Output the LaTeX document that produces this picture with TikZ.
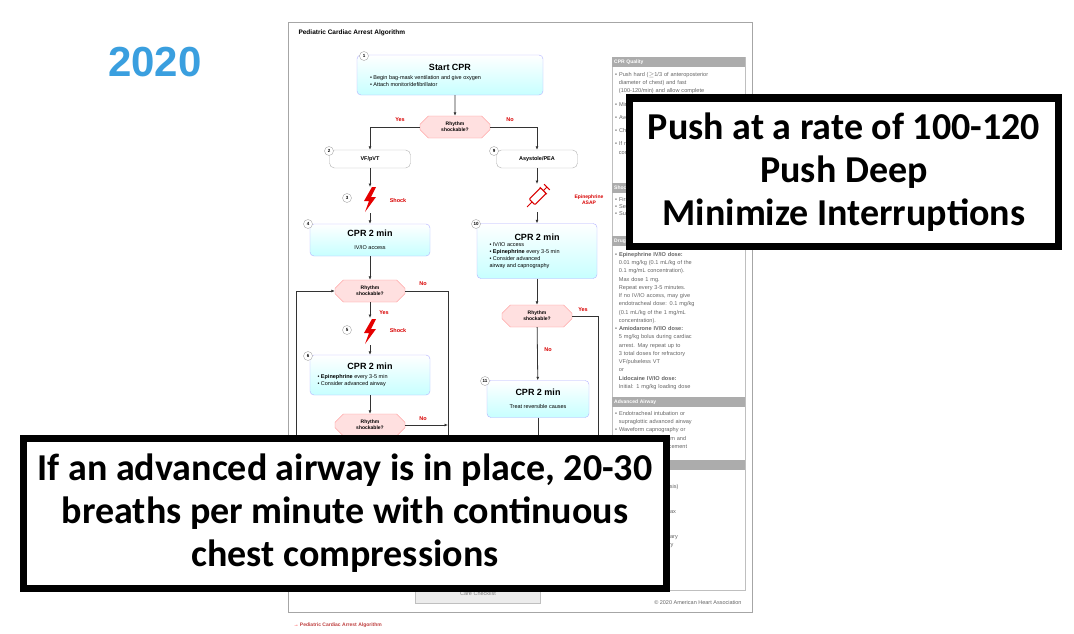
\documentclass[tikz,border=0pt]{standalone}
\usepackage{fontspec}
\setmainfont{Liberation Sans}
\newfontfamily\bigf{Carlito}
\usetikzlibrary{shapes.misc,arrows.meta,calc}
\tikzset{
 box/.style={draw=blue!30, rounded corners=4pt, top color=white, bottom color=cyan!22, align=center, inner sep=1pt},
 wbox/.style={draw=gray!60, rounded corners=5pt, fill=white, font=\fontsize{5.5}{6}\selectfont\bfseries},
 hexa/.style={chamfered rectangle, chamfered rectangle xsep=9pt, draw=red!45, fill=red!12, align=center, font=\fontsize{5}{6}\selectfont\bfseries, minimum width=70pt, minimum height=22pt, inner sep=0pt},
 num/.style={circle, draw=gray!70, fill=white, inner sep=0.5pt, minimum size=9pt, font=\fontsize{4.5}{5}\selectfont\bfseries},
 lab/.style={text=red!85!black, font=\fontsize{5.5}{6}\selectfont\bfseries},
 ar/.style={-{Latex[length=3.5pt,width=3pt]}, line width=0.8pt, draw=black!80},
 ln/.style={line width=0.8pt, draw=black!80},
 hdr/.style={fill=gray!65, text=white, anchor=north west, minimum width=133pt, minimum height=10pt, inner sep=2pt, text width=129pt, font=\fontsize{5}{6}\selectfont\bfseries},
 side/.style={anchor=north west, text=gray!80!black, text width=128pt, align=left, inner sep=0pt, font=\fontsize{5.6}{8.25}\selectfont},
 over/.style={draw=black, line width=7pt, fill=white, align=center, font=\bigf\bfseries\fontsize{38}{43}\selectfont},
}
\newcommand{\bolt}[1]{\fill[red!90!black] ($(#1)+(2,-13)$) -- ($(#1)+(-6,1)$) -- ($(#1)+(-1,1)$) -- ($(#1)+(-5,12)$) -- ($(#1)+(6,-3)$) -- ($(#1)+(1,-3)$) -- ($(#1)+(6,-13)$) -- cycle;}
\begin{document}
\begin{tikzpicture}[x=1pt,y=-1pt]
\useasboundingbox (0,0) rectangle (1074,634);
\fill[white] (0,0) rectangle (1074,634);
\node[text=cyan!75!blue!80, font=\bfseries\fontsize{42}{42}\selectfont] (yr) at (155,62) {2020};
% document
\draw[gray!70, line width=0.6pt] (288,22) rectangle (752,612);
\node[anchor=west, font=\fontsize{6.5}{7}\selectfont\bfseries] (ttl) at (295,33) {Pediatric Cardiac Arrest Algorithm};
% right panel
\draw[gray!50] (612,57) rectangle (745,590);
\node[hdr] (h1) at (612,57) {CPR Quality};
\node[side] (t1) at (615,72) {• Push hard ($\geq$1/3 of anteroposterior\\ \ \ diameter of chest) and fast\\ \ \ (100-120/min) and allow complete\\[5pt]• Minimize interruptions\\[5pt]• Avoid excessive ventilation\\[5pt]• Change compressor every 2 min\\[5pt]• If no advanced airway, 15:2\\ \ \ compression-ventilation ratio};
\node[hdr] (h2) at (612,183) {Shock Energy for Defibrillation};
\node[side, font=\fontsize{5.6}{7}\selectfont] (t2) at (615,197) {• First shock 2 J/kg\\• Second shock 4 J/kg\\• Subsequent shocks $\geq$4 J/kg};
\node[hdr] (h3) at (612,236) {Drug Therapy};
\node[side] (t3) at (615,252) {• \textbf{Epinephrine IV/IO dose:}\\ \ \ 0.01 mg/kg (0.1 mL/kg of the\\ \ \ 0.1 mg/mL concentration).\\ \ \ Max dose 1 mg.\\ \ \ Repeat every 3-5 minutes.\\ \ \ If no IV/IO access, may give\\ \ \ endotracheal dose: 0.1 mg/kg\\ \ \ (0.1 mL/kg of the 1 mg/mL\\ \ \ concentration).\\• \textbf{Amiodarone IV/IO dose:}\\ \ \ 5 mg/kg bolus during cardiac\\ \ \ arrest. May repeat up to\\ \ \ 3 total doses for refractory\\ \ \ VF/pulseless VT\\ \ \ or\\ \ \ \textbf{Lidocaine IV/IO dose:}\\ \ \ Initial: 1 mg/kg loading dose};
\node[hdr] (h4) at (612,397) {Advanced Airway};
\node[side] (t4) at (615,411) {• Endotracheal intubation or\\ \ \ supraglottic advanced airway\\• Waveform capnography or\\ \ \ capnometry to confirm and\\ \ \ monitor ET tube placement};
\node[hdr] (h5) at (612,460) {Reversible Causes};
\node[side] (t5) at (615,476) {• Hypovolemia\\• Hydrogen ion (acidosis)\\• Hypoglycemia\\• Hypo-/hyperkalemia\\• Tension pneumothorax\\• Tamponade, cardiac\\• Toxins\\• Thrombosis, pulmonary\\• Thrombosis, coronary};
\node[anchor=east, text=gray!80!black, font=\fontsize{5.5}{6}\selectfont] (cp) at (745,603) {© 2020 American Heart Association};
% flow nodes
\node[box, minimum width=186pt, minimum height=40pt] (b1) at (450,75) {{\bfseries\fontsize{9}{10}\selectfont Start CPR}\\[1pt]\parbox{160pt}{\fontsize{5.5}{7}\selectfont • Begin bag-mask ventilation and give oxygen\\• Attach monitor/defibrillator}};
\node[num] (n1) at (364,56) {1};
\node[hexa] (d1) at (455,127) {Rhythm\\shockable?};
\node[wbox, minimum width=81pt, minimum height=18pt] (b2) at (370,159) {VF/pVT};
\node[num] (n2) at (329,151) {2};
\node[wbox, minimum width=81pt, minimum height=18pt] (b9) at (537,159) {Asystole/PEA};
\node[num] (n9) at (494,151) {9};
\coordinate (s3) at (370,200);
\bolt{s3}
\node[num] (n3) at (347,198) {3};
\node[lab] (l3) at (398,201) {Shock};
\node[box, minimum width=120pt, minimum height=32pt] (b4) at (370,240) {{\bfseries\fontsize{9}{10}\selectfont CPR 2 min}\\[1pt]{\fontsize{5.5}{6}\selectfont IV/IO access}};
\node[num] (n4) at (308,224) {4};
\coordinate (sy) at (537,197);
\begin{scope}[shift={(sy)}, rotate=-45, red!85!black]
\draw[line width=1pt, rounded corners=1pt] (-4,-9) rectangle (4,7);
\draw[line width=1pt] (0,7) -- (0,14) (-5,-9) -- (5,-9) (0,-9) -- (0,-14) (-4,-14) -- (4,-14);
\end{scope}
\node[lab, align=center, font=\fontsize{5}{6}\selectfont\bfseries] (l9) at (589,200) {Epinephrine\\ASAP};
\node[box, minimum width=120pt, minimum height=55pt] (b10) at (537,251) {{\bfseries\fontsize{9}{10}\selectfont CPR 2 min}\\[1pt]\parbox{95pt}{\fontsize{5.5}{7}\selectfont • IV/IO access\\• \textbf{Epinephrine} every 3-5 min\\• Consider advanced\\ \ \ airway and capnography}};
\node[num] (n10) at (476,224) {10};
\node[hexa] (d2) at (370,291) {Rhythm\\shockable?};
\coordinate (s5) at (370,332);
\bolt{s5}
\node[num] (n5) at (347,330) {5};
\node[lab] (l5) at (398,331) {Shock};
\node[box, minimum width=120pt, minimum height=40pt] (b6) at (370,375) {{\bfseries\fontsize{9}{10}\selectfont CPR 2 min}\\[1pt]\parbox{105pt}{\fontsize{5.5}{7}\selectfont • \textbf{Epinephrine} every 3-5 min\\• Consider advanced airway}};
\node[num] (n6) at (308,356) {6};
\node[hexa] (d3) at (537,316) {Rhythm\\shockable?};
\node[box, minimum width=102pt, minimum height=37pt] (b11) at (538,399) {{\bfseries\fontsize{9}{10}\selectfont CPR 2 min}\\[1pt]{\fontsize{5.5}{6}\selectfont Treat reversible causes}};
\node[num] (n11) at (485,381) {11};
\node[hexa] (d4) at (370,425) {Rhythm\\shockable?};
\coordinate (e1) at (370,440);
\coordinate (e2) at (538,440);
\coordinate (e3) at (598,440);
\coordinate (e4) at (448,440);
\coordinate (e5) at (296,440);
% connectors
\draw[ar] (b1.south -| d1) -- (d1);
\draw[ar] (d1.west) -| (b2.north);
\draw[ar] (d1.east) -| (b9.north);
\node[lab] (y1) at (400,120) {Yes};
\node[lab] (o1) at (510,120) {No};
\draw[ar] (b2) -- (370,187);
\draw[ar] (370,213) -- (b4.north);
\draw[ar] (b4) -- (d2);
\draw[ar] (d2) -- (370,318);
\node[lab] (y2) at (384,313) {Yes};
\draw[ar] (370,345) -- (b6.north);
\draw[ar] (b6) -- (d4);
\draw[ln] (d2.east) -| (e4);
\node[lab] (o2) at (423,284) {No};
\draw[ar] (e5) |- (d2.west);
\draw[ar] (d4.east) -- (448,425);
\node[lab] (o4) at (423,419) {No};
\draw[ln] (d4) -- (e1);
\draw[ar] (b9) -- (537,184);
\draw[ar] (537,212) -- (b10.north);
\draw[ar] (b10) -- (d3);
\draw[ar] (d3) -- (b11);
\node[lab] (o3) at (548,350) {No};
\draw[ln] (d3.east) -| (e3);
\node[lab] (y3) at (583,310) {Yes};
\draw[ln] (b11) -- (e2);
% care checklist
\node[draw=gray!50, fill=gray!15, minimum width=125pt, minimum height=18pt, font=\fontsize{5.5}{6}\selectfont, text=gray] (cc) at (478,594) {Care Checklist};
\node[anchor=west, text=red!50!gray, font=\fontsize{5}{6}\selectfont\bfseries] (foot) at (290,625) {\textcolor{red}{\textbf{→}} Pediatric Cardiac Arrest Algorithm};
% overlays
\node[over, minimum width=429pt, minimum height=148pt] (oa) at (844,172) {Push at a rate of 100-120\\Push Deep\\Minimize Interruptions};
\node[over, minimum width=643pt, minimum height=150pt] (ob) at (345,513) {If an advanced airway is in place, 20-30\\breaths per minute with continuous\\chest compressions};
\end{tikzpicture}
\end{document}
